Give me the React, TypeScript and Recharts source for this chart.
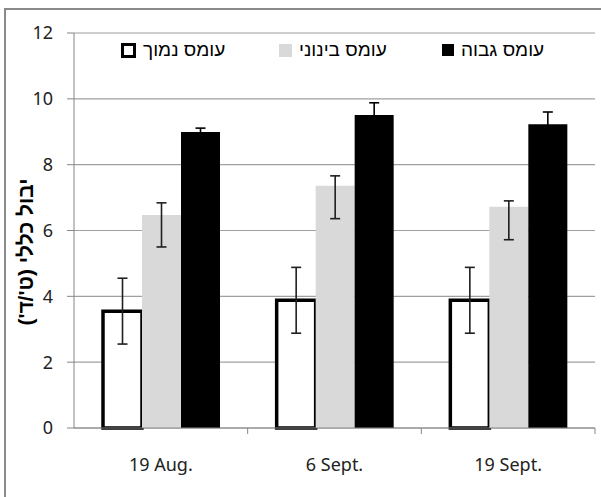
import React from "react";
import { BarChart, Bar, XAxis, YAxis, CartesianGrid, ErrorBar } from "recharts";

const categories = ["19 Aug.", "6 Sept.", "19 Sept."];
const lowLoad = [3.55, 3.88, 3.88];
const lowErr = [[1.0, 1.0], [1.0, 1.0], [1.0, 1.0]];
const midLoad = [6.47, 7.36, 6.72];
const midErr = [[0.97, 0.37], [1.0, 0.3], [1.0, 0.18]];
const highLoad = [8.99, 9.51, 9.23];
const highErr = [[0.12, 0.12], [0.37, 0.37], [0.37, 0.37]];
const yTicks = [0, 2, 4, 6, 8, 10, 12];

const seriesNames = ["עומס נמוך", "עומס בינוני", "עומס גבוה"];
const yLabel = "יבול כללי (ט'/ד')";

const chartData = categories.map((name, i) => ({
  name,
  low: lowLoad[i],
  lowErr: lowErr[i],
  mid: midLoad[i],
  midErr: midErr[i],
  high: highLoad[i],
  highErr: highErr[i],
}));

const W = 601;
const H = 497;
const tickFont = "'Noto Sans', sans-serif";
const hebFont = "'Liberation Sans', 'DejaVu Sans', sans-serif";
const legendLeft = [121, 279, 442];

function XTick(props: any) {
  const { x, y, payload, width } = props;
  const band = (width || 521) / categories.length;
  return (
    <g>
      <line x1={x + band / 2} y1={y} x2={x + band / 2} y2={y + 6} stroke="#868686" strokeWidth={1} />
      <text x={x} y={y + 43} textAnchor="middle" fontFamily={tickFont} fontSize={18} fill="#222">
        {payload.value}
      </text>
    </g>
  );
}

function LegendSwatch({ kind }: { kind: number }) {
  const styles: React.CSSProperties[] = [
    { width: 9, height: 9, border: "3px solid #000", background: "#fff" },
    { width: 13, height: 13, background: "#d9d9d9" },
    { width: 12, height: 12, background: "#000" },
  ];
  return <div style={styles[kind]} />;
}

export default function App() {
  return (
    <div style={{ position: "absolute", left: 0, top: 0, width: W, height: H, background: "#fff", overflow: "hidden" }}>
      <div
        style={{
          position: "absolute",
          left: 4,
          top: 8,
          width: W,
          height: H,
          borderLeft: "2px solid #8a8a8a",
          borderTop: "2px solid #8a8a8a",
        }}
      />
      <BarChart
        width={W}
        height={H}
        data={chartData}
        margin={{ top: 33, right: 6, left: 0, bottom: 0 }}
        barCategoryGap="16.7%"
        barGap={0}
        style={{ position: "absolute", left: 0, top: 0 }}
      >
        <CartesianGrid vertical={false} stroke="#a0a0a0" strokeWidth={1.2} />
        <XAxis
          dataKey="name"
          height={69}
          stroke="#868686"
          tickLine={false}
          tickSize={0}
          tickMargin={0}
          tick={<XTick />}
          interval={0}
        />
        <YAxis
          width={74}
          domain={[0, 12]}
          ticks={yTicks}
          stroke="#868686"
          tickSize={7}
          tickMargin={14}
          tick={{ fontFamily: tickFont, fontSize: 18, fill: "#222" }}
          label={({ viewBox }: any) => (
            <text
              transform={`translate(${(viewBox?.x ?? 0) + 25}, 252) rotate(-90)`}
              textAnchor="middle"
              dominantBaseline="central"
              fontFamily={hebFont}
              fontWeight="bold"
              fontSize={21}
              fill="#000"
            >
              {yLabel}
            </text>
          )}
        />
        <Bar dataKey="low" fill="#fff" stroke="#000" strokeWidth={3.5} isAnimationActive={false}>
          <ErrorBar dataKey="lowErr" width={5} stroke="#1f1f1f" strokeWidth={1.6} />
        </Bar>
        <Bar dataKey="mid" fill="#d9d9d9" isAnimationActive={false}>
          <ErrorBar dataKey="midErr" width={5} stroke="#1f1f1f" strokeWidth={1.6} />
        </Bar>
        <Bar dataKey="high" fill="#000" isAnimationActive={false}>
          <ErrorBar dataKey="highErr" width={5} stroke="#000" strokeWidth={1.6} />
        </Bar>
      </BarChart>
      {seriesNames.map((s, i) => (
        <div
          key={s}
          style={{
            position: "absolute",
            left: legendLeft[i],
            top: 39,
            display: "flex",
            alignItems: "center",
            gap: 7,
            fontFamily: hebFont,
            fontSize: 19,
            color: "#000",
          }}
        >
          <LegendSwatch kind={i} />
          <span dir="rtl">{s}</span>
        </div>
      ))}
    </div>
  );
}
